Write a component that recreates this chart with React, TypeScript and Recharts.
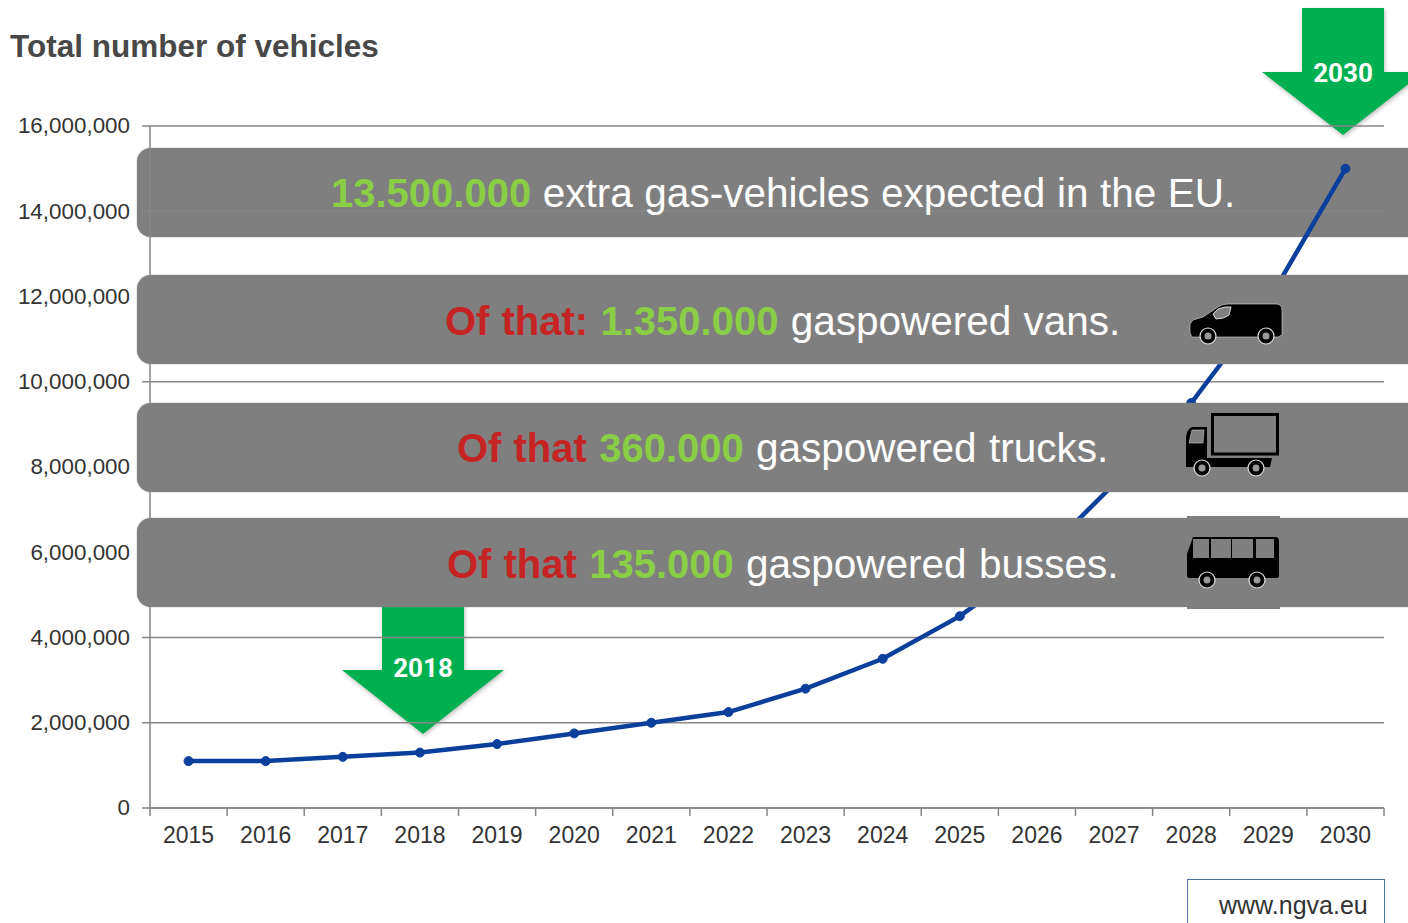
import { CartesianGrid, Line, LineChart, XAxis, YAxis } from 'recharts';

const years = ['2015', '2016', '2017', '2018', '2019', '2020', '2021', '2022', '2023', '2024', '2025', '2026', '2027', '2028', '2029', '2030'];
const vehicles = [1100000, 1100000, 1200000, 1300000, 1500000, 1750000, 2000000, 2250000, 2800000, 3500000, 4500000, 5800000, 7600000, 9500000, 11900000, 15000000];
const yTicks = [0, 2000000, 4000000, 6000000, 8000000, 10000000, 12000000, 14000000, 16000000];

const data = years.map((year, i) => ({ year, vehicles: vehicles[i] }));

const AXIS = '#868686';
const BAND = '#7f7f7f';
const GREEN = '#8ace46';
const RED = '#c62424';
const ARROW = '#00b050';
const SANS = '"Liberation Sans", Arial, sans-serif';
const HALF_STEP = 38.56;

const bandStyle = (top: number): React.CSSProperties => ({
  position: 'absolute', left: 137, top, width: 1300, height: 89,
  background: BAND, borderRadius: 14, boxShadow: '0 0 1.5px #999',
});

const lineStyle = (top: number, left: number, wordSpacing = 1): React.CSSProperties => ({
  position: 'absolute', left, top, whiteSpace: 'nowrap', color: '#fff',
  fontFamily: SANS, fontSize: 40.5, lineHeight: '48px', wordSpacing,
});

const Strong = ({ color, children }: any) => <b style={{ color, fontSize: 40 }}>{children}</b>;

// ticks sit on the band edges, labels in the middle
const YearTick = ({ x, y, payload, index }: any) => (
  <g>
    <line x1={x - HALF_STEP} x2={x - HALF_STEP} y1={y - 8} y2={y} stroke={AXIS} strokeWidth={1.5} />
    {index === years.length - 1 && <line x1={x + HALF_STEP} x2={x + HALF_STEP} y1={y - 8} y2={y} stroke={AXIS} strokeWidth={1.5} />}
    <text x={x} y={y + 27} textAnchor="middle" fontSize={23} fontFamily={SANS} fill="#333">{payload.value}</text>
  </g>
);

const Arrow = ({ cx, top, neck, tip, label, labelY }: any) => (
  <g>
    <polygon
      points={`${cx - 41},${top} ${cx + 41},${top} ${cx + 41},${neck} ${cx + 81},${neck} ${cx},${tip} ${cx - 81},${neck} ${cx - 41},${neck}`}
      fill={ARROW}
      style={{ filter: 'drop-shadow(1px 2px 2px rgba(0,0,0,0.25))' }}
    />
    <text x={cx} y={labelY} textAnchor="middle" fontSize={26} fontWeight={700} fontFamily="Roboto, sans-serif" fill="#fff">{label}</text>
  </g>
);

const Wheel = ({ cx, cy }: any) => (
  <g>
    <circle cx={cx} cy={cy} r={8} fill="#000" stroke="#ddd" strokeWidth={1.2} />
    <circle cx={cx} cy={cy} r={3.5} fill="#999" />
  </g>
);

const Van = () => (
  <svg style={{ position: 'absolute', left: 1188, top: 300 }} width={98} height={48} viewBox="0 0 98 48">
    <path d="M2 24 L5 20 L15 17 L30 7 Q34 4 40 4 L88 4 Q94 4 94 10 L94 35 L90 37 L4 37 L2 33 Z" fill="#000" stroke="#ddd" strokeWidth={0.6} />
    <path d="M25 14 L30 9 Q38 6 43 7 L41 15 Q36 19 28 19 Z" fill={BAND} stroke="#ddd" />
    <Wheel cx={20} cy={36} />
    <Wheel cx={78} cy={36} />
  </svg>
);

const Truck = () => (
  <svg style={{ position: 'absolute', left: 1184, top: 411 }} width={98} height={70} viewBox="0 0 98 70">
    <rect x={28.5} y={3.5} width={65} height={39.5} fill={BAND} stroke="#000" strokeWidth={3} />
    <path d="M2 54 L2 26 Q3 18 8 16 L23 16 L23 47 L88 47 L86 56 L2 56 Z" fill="#000" />
    <path d="M5 32 L8 19 L20 19 L19 32 Z" fill={BAND} stroke="#ccc" strokeWidth={0.6} />
    <Wheel cx={18} cy={57} />
    <Wheel cx={72} cy={57} />
  </svg>
);

const Bus = () => (
  <svg style={{ position: 'absolute', left: 1187, top: 516 }} width={93} height={93} viewBox="0 0 93 93">
    <rect x={0} y={0} width={93} height={93} fill={BAND} />
    <path d="M6 21 L88 21 Q92 21 92 25 L92 60 Q92 62 88 62 L4 62 Q0 62 0 60 L0 38 Z" fill="#000" />
    {[[6, 16], [24, 20], [45, 21], [69, 18]].map(([x, w], i) => (
      <rect key={i} x={x} y={23} width={w} height={19} fill={BAND} />
    ))}
    <Wheel cx={20} cy={64} />
    <Wheel cx={70} cy={64} />
  </svg>
);

export default function App() {
  return (
    <div style={{ position: 'absolute', left: 0, top: 0, width: 1408, height: 923, overflow: 'hidden', background: '#fff' }}>
      <div style={{ position: 'absolute', left: 10, top: 28, fontFamily: SANS, fontWeight: 700, fontSize: 31.5, color: '#484848', whiteSpace: 'nowrap' }}>
        Total number of vehicles
      </div>

      {/* under the chart: first band and the arrows, the line and grid run over them */}
      <div style={bandStyle(148)} />
      <svg style={{ position: 'absolute', left: 0, top: 0 }} width={1408} height={923}>
        <Arrow cx={1343} top={8} neck={72} tip={135} label="2030" labelY={82} />
        <Arrow cx={423} top={600} neck={670} tip={734} label="2018" labelY={677} />
      </svg>

      <div style={{ position: 'absolute', left: 0, top: 0 }}>
        <LineChart width={1408} height={923} data={data} margin={{ top: 126, right: 24, bottom: 0, left: 0 }}>
          <CartesianGrid vertical={false} stroke={AXIS} strokeWidth={1.5} />
          <XAxis
            dataKey="year"
            height={115}
            padding={{ left: HALF_STEP, right: HALF_STEP }}
            tickLine={false}
            axisLine={{ stroke: AXIS, strokeWidth: 1.5 }}
            tick={<YearTick />}
            interval={0}
          />
          <YAxis
            width={150}
            domain={[0, 16000000]}
            ticks={yTicks}
            tickFormatter={(v: number) => v.toLocaleString('en-US')}
            tickSize={8}
            tickMargin={12}
            tickLine={{ stroke: AXIS, strokeWidth: 1.5 }}
            axisLine={{ stroke: AXIS, strokeWidth: 1.5 }}
            tick={{ fontSize: 22.4, fontFamily: SANS, fill: '#333', dy: -0.5 }}
          />
          <Line
            dataKey="vehicles"
            type="linear"
            stroke="#0b3f9c"
            strokeWidth={4.5}
            dot={{ r: 4.5, fill: '#0b3f9c', stroke: '#0b3f9c', strokeWidth: 1 }}
            isAnimationActive={false}
          />
        </LineChart>
      </div>

      {/* over the chart: the other bands hide the line */}
      <div style={bandStyle(275)} />
      <div style={bandStyle(403)} />
      <div style={bandStyle(518)} />

      <div style={lineStyle(169, 331, 0.3)}>
        <Strong color={GREEN}>13.500.000</Strong> extra gas-vehicles expected in the EU.
      </div>
      <div style={lineStyle(297, 445)}>
        <Strong color={RED}>Of that:</Strong> <Strong color={GREEN}>1.350.000</Strong> gaspowered vans.
      </div>
      <div style={lineStyle(424, 457)}>
        <Strong color={RED}>Of that</Strong> <Strong color={GREEN}>360.000</Strong> gaspowered trucks.
      </div>
      <div style={lineStyle(540, 447)}>
        <Strong color={RED}>Of that</Strong> <Strong color={GREEN}>135.000</Strong> gaspowered busses.
      </div>

      <Van />
      <Truck />
      <Bus />

      <div style={{ position: 'absolute', left: 1187, top: 879, width: 198, height: 60, border: '1.5px solid #4a6ea8', boxSizing: 'border-box' }}>
        <span style={{ position: 'absolute', left: 31, top: 11, fontFamily: SANS, fontSize: 25, color: '#333', whiteSpace: 'nowrap' }}>www.ngva.eu</span>
      </div>
    </div>
  );
}
